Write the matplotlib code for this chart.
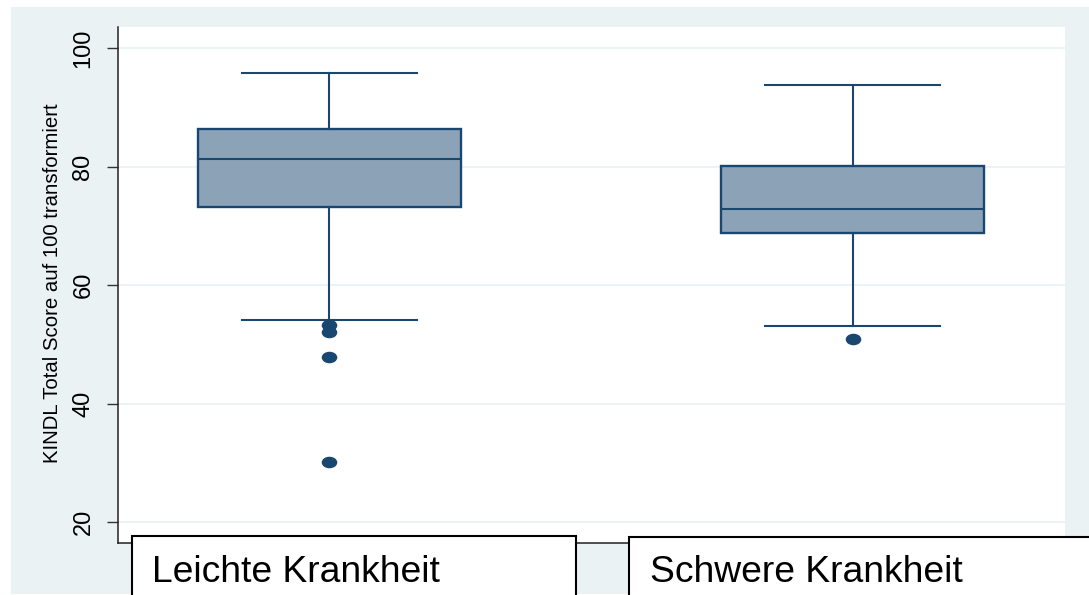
import matplotlib
matplotlib.use("Agg")
import matplotlib.pyplot as plt
from matplotlib.patches import Rectangle
from matplotlib.path import Path
from matplotlib.transforms import Affine2D

# Summary statistics of the KINDL total score per group
groups = ["Leichte Krankheit", "Schwere Krankheit"]
whisker_low = [54.1, 53.1]
q1 = [73.3, 68.8]
median = [81.3, 72.9]
q3 = [86.4, 80.1]
whisker_high = [95.9, 93.8]
outliers = [[53.3, 52.1, 47.9, 30.1], [51.0]]

y_ticks = [20, 40, 60, 80, 100]
y_title = "KINDL Total Score auf 100 transformiert"

navy = "#1A476F"
fill = "#8CA3B7"
bg = "#EAF2F3"

W, H = 1089, 595
fig = plt.figure(figsize=(W / 100, H / 100), dpi=100)
fig.patch.set_facecolor("white")


def fx(px):
    return px / W


def fy(py):
    return (H - py) / H


# outer graph region
fig.add_artist(Rectangle((fx(11), fy(594)), fx(1089) - fx(11), fy(7) - fy(594),
                         transform=fig.transFigure, facecolor=bg,
                         edgecolor="none", zorder=-10))

ax = fig.add_axes([fx(118), fy(543), fx(1065) - fx(118), fy(27) - fy(543)])
ax.set_facecolor("white")

stats = []
for i in range(len(groups)):
    stats.append(dict(whislo=whisker_low[i], q1=q1[i], med=median[i],
                      q3=q3[i], whishi=whisker_high[i], fliers=outliers[i],
                      label=groups[i]))

ellipse = Path.unit_circle().transformed(Affine2D().scale(1.4, 1.0))

ax.bxp(stats, positions=[1, 2], widths=0.502, patch_artist=True,
       boxprops=dict(facecolor=fill, edgecolor=navy, linewidth=1.7),
       medianprops=dict(color=navy, linewidth=1.5),
       whiskerprops=dict(color=navy, linewidth=1.5),
       capprops=dict(color=navy, linewidth=1.5),
       capwidths=0.334,
       flierprops=dict(marker=ellipse, markersize=10.2,
                       markerfacecolor=navy, markeredgecolor=navy,
                       linestyle="none"),
       zorder=3)

ax.set_xlim(0.597, 2.405)
ax.set_ylim(16.5, 103.6)
ax.set_xticks([])
ax.set_yticks(y_ticks)
ax.set_yticklabels([str(t) for t in y_ticks], rotation=90, va="center",
                   family=["Liberation Sans Narrow", "Liberation Sans"],
                   fontsize=17)
ax.tick_params(axis="y", length=8, width=1.0, color="#333333", pad=9)
ax.grid(axis="y", color=bg, linewidth=1.3, zorder=0)
ax.set_axisbelow(True)

for side in ("top", "right"):
    ax.spines[side].set_visible(False)
for side in ("left", "bottom"):
    ax.spines[side].set_color("#222222")
    ax.spines[side].set_linewidth(1.1)

fig.text(fx(53), fy(283), y_title, rotation=90, ha="center", va="center",
         family="Liberation Sans", fontsize=14.7, color="black")

# group name boxes beneath the plot
label_boxes = [(131.7, 575.7, 536), (629.3, 1095, 537)]
label_x = [151.7, 650]
for (x0, x1, top), lx, name in zip(label_boxes, label_x, groups):
    fig.add_artist(Rectangle((fx(x0), fy(600)), fx(x1) - fx(x0), fy(top) - fy(600),
                             transform=fig.transFigure, facecolor="white",
                             edgecolor="black", linewidth=1.5, zorder=5,
                             clip_on=False))
    fig.text(fx(lx), fy(581.7), name, ha="left", va="baseline",
             family="Liberation Sans", fontsize=26.8, color="black", zorder=6)

fig.savefig("out.png", dpi=100, facecolor=fig.get_facecolor())
